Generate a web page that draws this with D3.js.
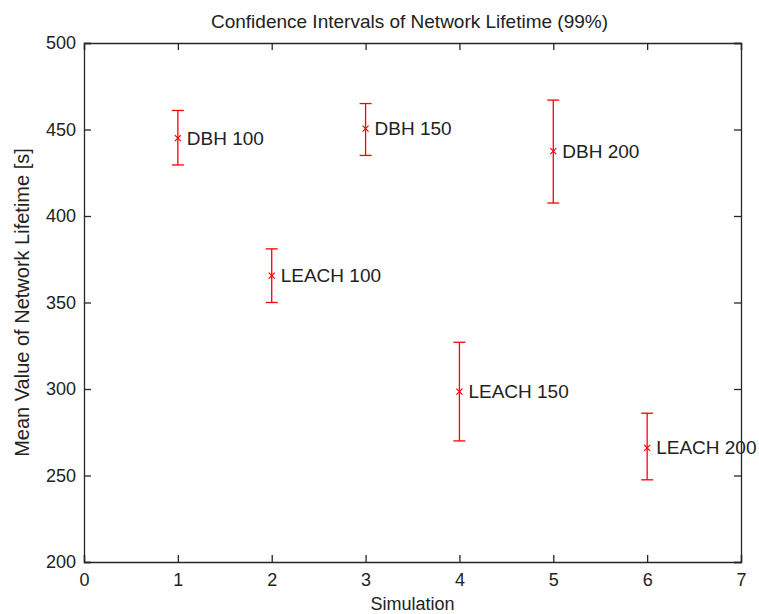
<!DOCTYPE html>
<html>
<head>
<meta charset="utf-8">
<script src="https://cdn.jsdelivr.net/npm/d3@7"></script>
<style>
  body { margin: 0; background: #fff; }
  svg { display: block; font-family: "Liberation Sans", Arial, sans-serif; }
</style>
</head>
<body>
<svg id="chart"></svg>
<script>
// values
const names = ["DBH 100", "LEACH 100", "DBH 150", "LEACH 150", "DBH 200", "LEACH 200"];
const sims = [1, 2, 3, 4, 5, 6];
const means = [445, 365.5, 450.5, 298.5, 437.5, 266];
const lower = [429.5, 350, 435, 270, 407.5, 247.5];
const upper = [461, 381, 465, 327, 467, 286];
const xTicks = [0, 1, 2, 3, 4, 5, 6, 7];
const yTicks = [200, 250, 300, 350, 400, 450, 500];

const width = 759, height = 614;
const margin = { top: 43, right: 18, bottom: 52, left: 84 };
const w = width - margin.left - margin.right;
const h = height - margin.top - margin.bottom;
const axisColor = "#262626";

const svg = d3.select("#chart").attr("width", width).attr("height", height);
const g = svg.append("g").attr("transform", `translate(${margin.left}, ${margin.top})`);

const x = d3.scaleLinear().domain([0, 7]).range([0, w]);
const y = d3.scaleLinear().domain([200, 500]).range([h, 0]);

// axes: ticks inward on all four sides (matlab style)
const bottomAxis = d3.axisBottom(x).tickValues(xTicks).tickFormat(d3.format("d")).tickSize(-7).tickPadding(11);
const topAxis = d3.axisTop(x).tickValues(xTicks).tickSize(-7).tickFormat("");
const leftAxis = d3.axisLeft(y).tickValues(yTicks).tickFormat(d3.format("d")).tickSize(-7).tickPadding(8);
const rightAxis = d3.axisRight(y).tickValues(yTicks).tickSize(-7).tickFormat("");

g.append("g").attr("transform", `translate(0, ${h})`).call(bottomAxis);
g.append("g").call(topAxis);
g.append("g").call(leftAxis);
g.append("g").attr("transform", `translate(${w}, 0)`).call(rightAxis);

g.selectAll(".domain").attr("stroke", axisColor).attr("stroke-width", 1.3);
g.selectAll(".tick line").attr("stroke", axisColor).attr("stroke-width", 1.3);
g.selectAll(".tick text")
 .attr("fill", "#222")
 .style("font-size", "18px")
 .style("font-family", "'Liberation Sans', Arial, sans-serif");

// error bars
const data = names.map((n, i) => ({ name: n, sim: sims[i], mean: means[i], lo: lower[i], hi: upper[i] }));
const red = "#ff0000";
const bars = g.selectAll(".bar").data(data).enter().append("g").attr("class", "bar");

bars.append("line")
    .attr("x1", d => x(d.sim)).attr("x2", d => x(d.sim))
    .attr("y1", d => y(d.lo)).attr("y2", d => y(d.hi))
    .attr("stroke", red).attr("stroke-width", 1.3);

[d => d.lo, d => d.hi].forEach(f => {
  bars.append("line")
      .attr("x1", d => x(d.sim) - 6).attr("x2", d => x(d.sim) + 6)
      .attr("y1", d => y(f(d))).attr("y2", d => y(f(d)))
      .attr("stroke", red).attr("stroke-width", 1.3);
});

// x markers at the mean
bars.append("path")
    .attr("d", d => {
      const cx = x(d.sim), cy = y(d.mean), s = 3;
      return `M${cx - s},${cy - s}L${cx + s},${cy + s}M${cx - s},${cy + s}L${cx + s},${cy - s}`;
    })
    .attr("stroke", red).attr("stroke-width", 1.2).attr("fill", "none");

bars.append("text")
    .attr("x", d => x(d.sim) + 9)
    .attr("y", d => y(d.mean))
    .attr("dy", "0.35em")
    .attr("fill", "#222")
    .style("font-size", "19px")
    .text(d => d.name);

// title and axis labels
svg.append("text")
   .attr("x", margin.left + w / 2 - 3).attr("y", 28)
   .attr("text-anchor", "middle").attr("fill", "#222")
   .style("font-size", "19px")
   .text("Confidence Intervals of Network Lifetime (99%)");

svg.append("text")
   .attr("x", margin.left + w / 2).attr("y", 610)
   .attr("text-anchor", "middle").attr("fill", "#222")
   .style("font-size", "18px")
   .text("Simulation");

svg.append("text")
   .attr("transform", `translate(29, ${margin.top + h / 2}) rotate(-90)`)
   .attr("text-anchor", "middle").attr("fill", "#222")
   .style("font-size", "20px")
   .text("Mean Value of Network Lifetime [s]");
</script>
</body>
</html>
